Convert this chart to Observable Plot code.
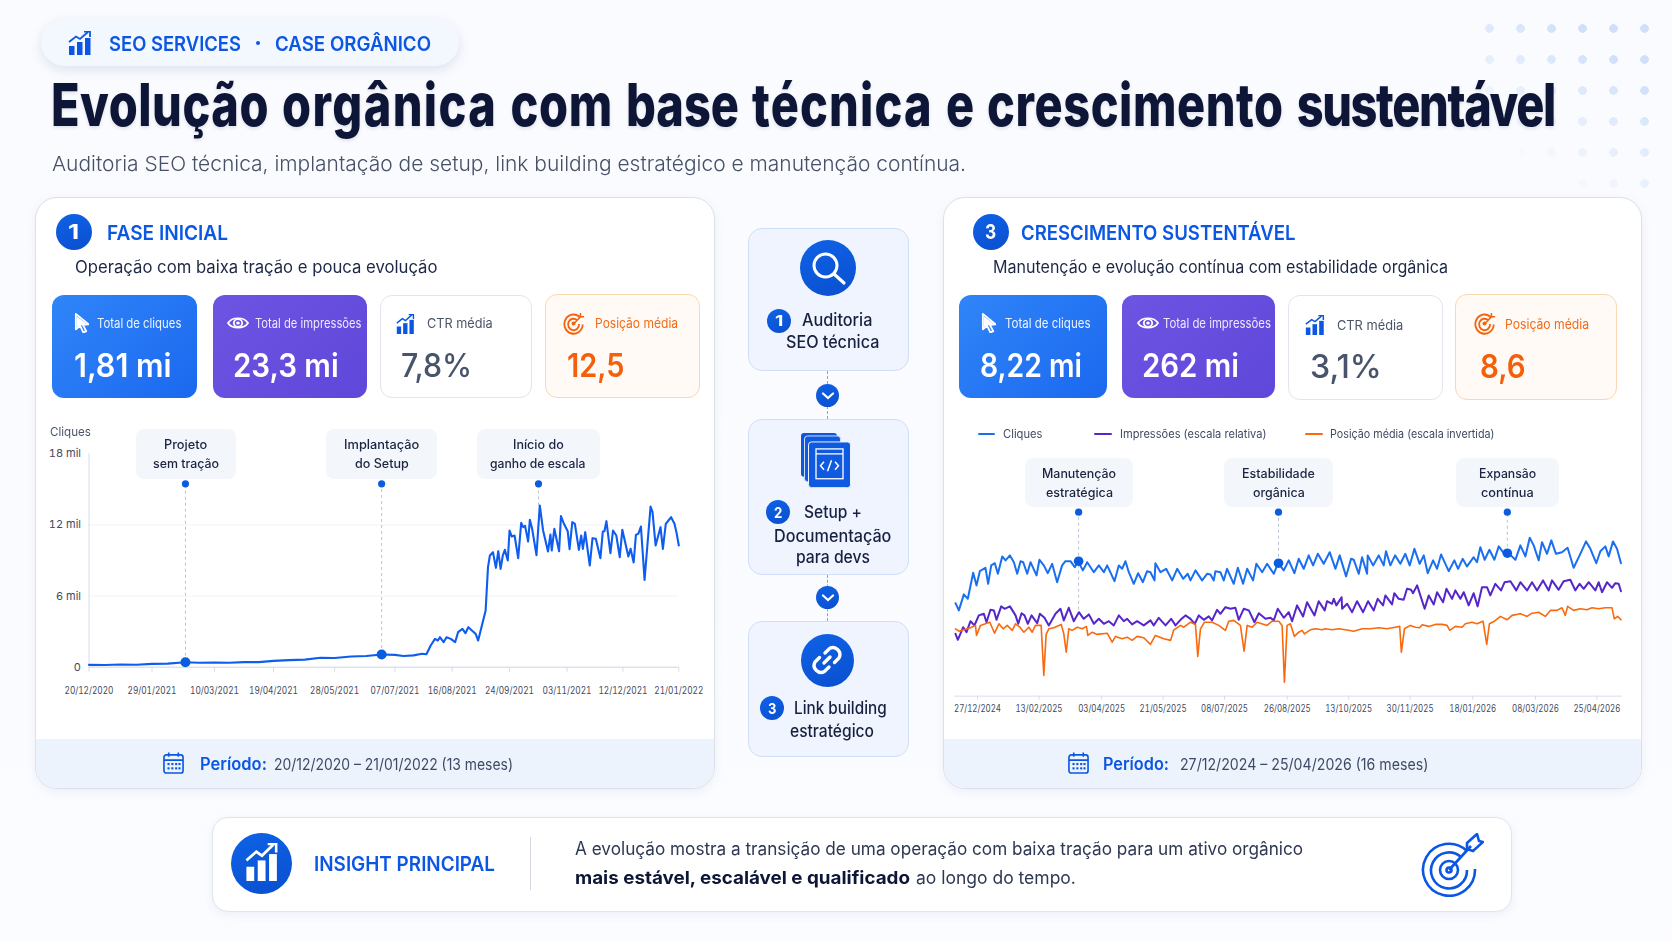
<!DOCTYPE html>
<html lang="pt-BR"><head><meta charset="utf-8">
<script src="https://cdn.jsdelivr.net/npm/d3@7"></script>
<script src="https://cdn.jsdelivr.net/npm/@observablehq/plot@0.6"></script>
<style>
html,body{margin:0;padding:0;background:#fafbfe}
#page{position:relative;width:1672px;height:941px;overflow:hidden;font-family:Inter,sans-serif;background:linear-gradient(180deg,#fafbfe,#fbfcff)}
.a{position:absolute;box-sizing:border-box}
</style></head><body><div id="page"></div>
<script>
// ---------- DATA ----------
// Fase inicial: [dia desde 20/12/2020, cliques]
const cliques1 = [[0,200],[10,190],[20,230],[30,210],[40,280],[50,300],[61.4,420],[70,380],[80,400],[90,370],[100,430],[110,430],[120,530],[130,600],[140,640],[150,800],[159,770],[170,900],[180,950],[190.2,1070],[199,1040],[205,950],[212,1000],[218,1130],[221,1090],[224,1828],[227,2390],[229,2250],[230.4,2530],[233,2110],[235,2530],[238,2390],[241,2110],[243,2953],[246,3235],[248,2870],[250,3375],[253,3037],[255,2813],[256.7,2250],[261.8,4781],[263.4,8437],[264.7,9421],[266.8,9702],[268.8,8381],[270.4,9786],[272,8296],[273.5,9421],[274.9,9899],[276.9,9000],[278.1,11530],[279.7,11024],[281.6,11108],[284.1,9196],[286.2,12177],[287.6,11811],[288.9,11924],[291,10602],[292.2,12430],[293.8,11671],[296.8,9449],[299.1,13639],[301.4,11530],[304.8,9758],[306.5,11192],[307.4,9843],[309.2,11671],[312.5,9786],[313.8,12739],[315.7,12149],[318.5,11474],[319.8,9955],[321.7,12233],[323.5,12092],[326.3,9899],[327.9,11108],[329.1,9983],[330.7,11389],[333.9,8577],[335.8,10883],[338.1,10827],[341.3,9196],[343,11446],[344.1,11474],[345.5,12317],[348.3,9618],[350.1,11530],[352.4,11108],[354.8,9280],[356.6,11586],[360.9,9336],[362.5,9983],[364.7,8830],[366.3,11164],[368,11249],[369.9,11867],[372.5,7368],[376.8,13555],[378.2,13076],[380.4,10265],[383.9,11811],[385.6,9983],[387.7,12092],[389.6,12373],[391.5,12655],[393.9,12092],[395.3,11389],[397,10265]];
const ticks1 = ["2020-12-20","2021-01-29","2021-03-10","2021-04-19","2021-05-28","2021-07-07","2021-08-16","2021-09-24","2021-11-03","2021-12-12","2022-01-21"];
const yTicks1 = [0,6000,12000,18000];
// anotações: dia, valor na linha, topo do marcador
const notas1Dias = [61.4,190.2,298.2];
const notas1Linha = [420,1070,13600];
const notas1Topo = 15470;
const notas1Textos = [["Projeto","sem tração"],["Implantação","do Setup"],["Início do","ganho de escala"]];

// Crescimento sustentável: [dia desde 27/12/2024, índice relativo]
const cliques3 = [[-17.2,46.5],[-14.6,42.9],[-10.7,50.9],[-7.6,48.7],[-3.4,61.7],[-0.8,55.4],[1.8,62.5],[6.2,64.2],[8.3,56.2],[10.7,65.4],[13.5,66.5],[15.9,61.2],[19.3,69.9],[21.9,67.9],[25.3,70.4],[28.4,67],[31,61.2],[33.6,67.5],[35.7,67],[38.8,61.2],[41.4,67],[46.1,60.4],[48.4,68.2],[51.8,65.4],[54.9,61.5],[58.3,66.2],[62.2,57],[66.1,65.4],[68.7,67.5],[72.6,67.5],[76,64.5],[78.6,67.5],[82.3,62.9],[85.7,67],[90.9,62],[94.8,65.4],[98.7,62],[101.3,65.4],[107,57.5],[110.4,65.4],[113,63.7],[115.6,67.5],[118.2,62],[122.1,56.2],[125.5,61.5],[129.2,57],[132.5,62.5],[135.1,62],[138.3,57.9],[139,66.5],[143,62],[147.4,63.7],[152.1,57.9],[156,63.7],[160.7,58.7],[164.3,61.2],[166.4,57.9],[170.3,62.9],[175.5,57.9],[179.4,61.2],[182,60.9],[184.6,57.9],[185.9,62.5],[189.8,62],[192.4,57.9],[195,63.7],[200.2,56.2],[203.4,64.2],[207.5,56.2],[210.7,63.7],[215.3,57.9],[217.9,66.2],[222.4,62],[226.3,66.2],[231.5,61.2],[234.9,66.7],[239.3,62.9],[243.2,67.9],[247.6,61.5],[251,68.7],[254.9,63.7],[258.8,70.4],[262.2,65.4],[265.9,71.2],[270.5,66.2],[275.2,72],[279.7,63.7],[283,70.4],[288,59.9],[291.9,68.7],[294,68.2],[297.9,61.2],[300.5,69.5],[304.4,61.2],[304.9,70.4],[309.1,65.4],[313.5,70.4],[317.4,65.4],[319.2,72.5],[322.6,65.4],[326.3,70.4],[330.4,66.2],[334.3,71.2],[337.7,65.4],[341.4,73.7],[345.5,66.2],[348.7,70.4],[351.8,61.5],[356,67.9],[359.1,63.7],[362.2,70.9],[368.2,62.5],[372.6,67.9],[375.5,63.7],[379.1,68.7],[382.5,64.9],[387.7,69.5],[390.3,67],[392.9,74.5],[396.3,68.2],[400,73.2],[403.9,68.2],[407.3,74.9],[411.2,71.5],[414.3,71.9],[420.3,68.2],[424.2,75.4],[428.1,69.9],[431.5,79.2],[434.6,75.4],[438.5,67.9],[441.1,77],[445,71.2],[448.4,77.9],[452,71.2],[456.7,72],[461.1,74.2],[465.8,64.2],[470.5,70.4],[475.5,77.4],[478.9,73.7],[483.5,66.5],[486.7,72.5],[490.6,74.9],[493.2,69.9],[496.6,77.4],[499.7,73.7],[502.8,66.5]];
const impressoes3 = [[-17.2,31.2],[-15.4,28.2],[-11.2,34.5],[-8.6,32],[-5.5,37.5],[-2.4,35.4],[1,40.4],[4.9,41.2],[7,37],[10.1,43.2],[12.8,42.9],[14.8,38.2],[18.5,44.9],[21.1,43.7],[25.3,44.9],[29.7,40.4],[31.8,36.2],[34.4,41.5],[36.7,40.4],[39.3,36.2],[42.2,40.4],[46.6,36.5],[48.7,41.2],[52.3,39.2],[55.7,35.4],[60.9,41.2],[64.8,43.7],[67.4,37.9],[71.3,44.2],[75.2,37.5],[79.2,42],[83,38.7],[87,40.9],[90.9,36.2],[94.8,38.7],[98.7,36.2],[102.6,37.5],[106.5,35.4],[110.4,40.4],[114.3,37.5],[116.9,38.7],[120.8,35.9],[124.7,37.5],[129.9,35.4],[135.1,37.9],[137.7,35.4],[141.6,39.2],[146.9,35.4],[151.3,38.7],[154.7,35.4],[158.6,38.2],[162.5,40.4],[166.4,38.7],[169.8,36.2],[172.9,40.4],[176.8,38.2],[180.7,39.9],[183.3,37.9],[187.2,43.2],[189.8,41.2],[193.7,44.5],[197.6,43.7],[201.5,44.2],[204.1,38.2],[208,43.7],[212,42.9],[216.4,37],[219.8,41.5],[225,38.7],[228.9,39.2],[231.5,37.9],[234.6,43.7],[239.3,39.2],[243.2,42],[245.8,37.5],[249.7,45.4],[254.4,39.9],[257.5,47],[263.3,40.4],[266.6,47.5],[271.3,42.9],[273.1,47.5],[277,46.2],[278.4,48.7],[280.4,45.4],[284.5,49.5],[284.9,43.7],[288.8,46.2],[292.7,42],[296.6,47.5],[301.3,42],[305.2,47.5],[309.6,42.9],[312.7,48.7],[316.9,45.4],[318.7,50.4],[323.9,45.9],[325.7,51.5],[329.1,48.7],[333,48.2],[335.6,53.7],[338.8,53.2],[340.3,51.5],[343.5,55.4],[349.4,43.7],[352.6,50.4],[356.5,45.9],[359.1,52],[363.8,47],[366.4,53.7],[370.8,48.7],[373.4,52.9],[377.3,48.7],[379.9,52],[383.8,45.4],[387.7,51.5],[390.8,44.9],[394.2,54.5],[398.1,54.5],[400.7,50.4],[404.6,56.2],[409.1,52.9],[411.9,57],[416.4,57.5],[421,52.9],[424.2,57],[429.4,52.9],[433.3,57],[437.2,52.9],[441.9,57.9],[446.3,52.9],[448.9,57.9],[454.1,53.2],[458,57.5],[463.2,58.2],[467.1,52.9],[470.5,56.2],[473.7,53.7],[477.6,57],[482.8,52.9],[485.4,57],[488,52],[491.9,57],[495.8,54.2],[498.4,56.5],[501,56.2],[502.8,52.5]];
const posicao3 = [[-17.2,33.7],[-14.6,32.5],[-10.7,33.2],[-5.5,34.2],[-1.6,35.4],[-0.8,30.4],[2.3,35.4],[6.2,36.2],[9.6,37],[13.3,31.5],[16.7,36.2],[20,33.7],[23.2,35.4],[27.1,32.9],[29.7,36.2],[33.1,34.5],[36.2,32],[40.1,34.5],[42.7,32],[45.3,35.4],[49.7,35.4],[51.8,10.4],[53.6,30.9],[55.7,33.7],[59.6,34.2],[65.4,35.9],[67.4,31.2],[69.3,22],[71.3,33.7],[73.9,32.9],[77.9,34.5],[81.8,33.7],[85.1,34.9],[86.2,30.4],[89.6,32],[93.5,30.9],[101.3,31.5],[105.2,27],[107.8,29.9],[113,28.7],[116.9,29.5],[120.8,27.9],[124.7,29.9],[129.9,29.2],[135.1,25.9],[139,30.4],[145.6,28.7],[150.8,27.9],[153.4,33.2],[158.6,35.4],[161.2,34.5],[166.4,37],[170.3,35.9],[172.1,19.9],[174.2,33.7],[177.3,37],[183.3,37],[188.5,35.4],[193.7,32.9],[196.3,37.5],[200.2,37.9],[205.4,35.4],[208.3,22.5],[210.7,35.4],[214.6,34.5],[218.5,37],[226.3,35.4],[230.2,37.5],[235.4,37.5],[238,35.4],[239.8,7],[241.9,35.4],[244.5,36.2],[247.6,29.9],[251,32],[253.6,32.9],[255.4,31.2],[260.1,33.2],[264,33.7],[269.2,33.2],[271.8,33.7],[277,33.2],[282.3,33.7],[287.5,33.2],[294,32.5],[300.5,33.7],[307,33.7],[313.5,34.2],[320,33.7],[326.5,34.5],[329.9,34.9],[331.2,22],[333.6,33.7],[338.2,35.4],[342.2,34.5],[345.5,34.2],[347.4,35.7],[352.6,34.9],[357.8,35.9],[363,35.9],[366.9,35.4],[369,32.9],[373.4,34.9],[378.6,34.5],[381.2,36.2],[386.4,37],[390.3,36.2],[395,37.5],[397.9,25.9],[400,36.2],[403.9,37.5],[408.6,39.9],[413.8,38.2],[417.7,40.4],[424.2,41.2],[429.4,39.9],[433.3,41.5],[438.5,42],[443.7,39.9],[447.6,42.9],[452.8,42.9],[456.7,44.2],[459.3,40.4],[461.1,44.9],[465.8,42.9],[471,43.7],[476.2,43.2],[480.2,44.2],[485.4,43.7],[490.6,44.2],[495.8,44.2],[497.6,38.7],[500.2,39.9],[502.8,38.2]];
const ticks3 = ["2024-12-27","2025-02-13","2025-04-03","2025-05-21","2025-07-08","2025-08-26","2025-10-13","2025-11-30","2026-01-18","2026-03-08","2026-04-25"];
const notas3Dias = [79,235.2,414];
const notas3Linha = [67.5,66.5,71.5];
const notas3Fim = [43,66.5,71.5];
const notas3Topo = 92;
const notas3Textos = [["Manutenção","estratégica"],["Estabilidade","orgânica"],["Expansão","contínua"]];
const legenda3 = ["Cliques","Impressões (escala relativa)","Posição média (escala invertida)"];

// ---------- HELPERS ----------
const page = document.getElementById("page");
const BLUE="#0b57e3", NAVY="#0d1636";
function box(x0,y0,x1,y1,css){const e=document.createElement("div");e.className="a";e.style.cssText+=`left:${x0}px;top:${y0}px;width:${x1-x0}px;height:${y1-y0}px;${css||""}`;page.appendChild(e);return e;}
function t(s,x0,x1,base,size,weight,color,extra,html){const e=document.createElement("div");e.className="a";if(html)e.innerHTML=html;else e.textContent=s;e.style.cssText+=`left:${x0}px;top:${base-0.8635*size+0.8}px;font:${weight} ${size}px/1 Inter,sans-serif;color:${color};white-space:nowrap;transform-origin:0 0;${extra||""}`;page.appendChild(e);const w=e.getBoundingClientRect().width;e.style.transform=`scaleX(${(x1-x0)/w})`;return e;}
function ic(x,y,w,h,vb,inner){const e=document.createElement("div");e.className="a";e.style.cssText+=`left:${x}px;top:${y}px;width:${w}px;height:${h}px;line-height:0`;e.innerHTML=`<svg xmlns="http://www.w3.org/2000/svg" width="${w}" height="${h}" viewBox="${vb}" preserveAspectRatio="none">${inner}</svg>`;page.appendChild(e);}
const icoBars=c=>`<rect x="1" y="15" width="5.5" height="9" fill="${c}"/><rect x="9" y="11" width="5.5" height="13" fill="${c}"/><rect x="17" y="7" width="5.5" height="17" fill="${c}"/><path d="M1 11 L8 5.5 L12 8 L20 1" fill="none" stroke="${c}" stroke-width="1.8"/><path d="M16 .5 H22 V6" fill="none" stroke="${c}" stroke-width="1.8"/>`;
const icoCursor=`<path d="M2 1 L2 18 L6.5 14 L10 21.5 L13 20 L9.5 13 L15.5 12.5 Z" fill="none" stroke="#fff" stroke-width="2" stroke-linejoin="round"/><path d="M3 3.5 L3 15.5 L13 11.5 Z" fill="#fff"/>`;
const icoEye=`<path d="M1 10 C5 3,17 3,21 10 C17 17,5 17,1 10 Z" fill="none" stroke="#fff" stroke-width="1.8"/><circle cx="11" cy="10" r="4.2" fill="none" stroke="#fff" stroke-width="1.8"/><circle cx="11" cy="10" r="1.8" fill="#fff"/>`;
const icoTarget=c=>`<path d="M19 6 A10 10 0 1 0 21.5 13" fill="none" stroke="${c}" stroke-width="2"/><path d="M15.5 8.5 A6 6 0 1 0 17.5 12.5" fill="none" stroke="${c}" stroke-width="2"/><circle cx="11.5" cy="12" r="2.2" fill="${c}"/><path d="M12 12 L20 4" stroke="${c}" stroke-width="1.6"/><path d="M19 1 L19 5 L23 5" fill="none" stroke="${c}" stroke-width="1.6"/>`;
const icoCal=`<rect x="1" y="3" width="20" height="19" rx="2.5" fill="none" stroke="${BLUE}" stroke-width="1.7"/><path d="M1 8.5 H21 M6 0.5 V5 M16 0.5 V5" stroke="${BLUE}" stroke-width="1.7"/>`+[5.5,9.5,13.5,17].map(x=>`<rect x="${x-.8}" y="11.5" width="2.2" height="2.2" fill="${BLUE}"/><rect x="${x-.8}" y="16" width="2.2" height="2.2" fill="${BLUE}"/>`).join("");
function circle(cx,cy,r,txt,fs){box(cx-r,cy-r,cx+r,cy+r,`border-radius:50%;background:linear-gradient(160deg,#0f62e6,#0a4fd0);`);if(txt){const w=fs*0.56;t(txt,cx-w/2,cx+w/2,cy+fs*0.37-0.8,fs,700,"#fff");}}

// ---------- FUNDO ----------
box(1474,13,1662,200,`background:radial-gradient(circle,#c9dcfa 4px,transparent 4.6px) 0 0/31px 31px;-webkit-mask-image:linear-gradient(215deg,#000 25%,transparent 78%);mask-image:linear-gradient(215deg,#000 25%,transparent 78%);opacity:.85`);

// ---------- CABEÇALHO ----------
box(41,19,459,66,`background:#f3f7fe;border-radius:24px;box-shadow:0 4px 12px rgba(70,100,170,.16)`);
ic(68,31,24,24,"0 0 24 24",icoBars(BLUE));
t("SEO SERVICES",109,241,50.5,20,600,BLUE);
box(256,41,260,45,`border-radius:50%;background:${BLUE}`);
t("CASE ORGÂNICO",275,431,50.5,20,600,BLUE);
const tituloPalavras=[["Evolução",.67],["orgânica",1.8],["com",.9],["base",0],["técnica",1.5],["e",0],["crescimento",.7],["sustentável",-1.7]];
t("",51,1555,125,59,800,NAVY,"word-spacing:3.5px;text-shadow:0 2px 4px rgba(30,50,110,.12)",tituloPalavras.map(([w,l])=>`<span style="letter-spacing:${l}px">${w}</span>`).join(" "));
t("Auditoria SEO técnica, implantação de setup, link building estratégico e manutenção contínua.",52,966,170.5,20.5,300,"#465066");

// ---------- CARTÕES ----------
function card(x0,x1){
  box(x0,197,x1,789,`background:#fff;border:1.3px solid #dbe0ea;border-radius:22px;box-shadow:0 3px 10px rgba(70,90,150,.08);overflow:hidden`);
  box(x0+1,739,x1-1,788,`background:#edf3fd;border-radius:0 0 21px 21px`);
}
card(34.5,714.5); card(943,1642);

function kpiBlue(x0,x1){box(x0,295,x1,398,`background:linear-gradient(135deg,#3085f8,#1b68ef);border-radius:12px`);}
function kpiPurple(x0,x1){box(x0,295,x1,398,`background:linear-gradient(135deg,#6e54e2,#5f47da);border-radius:12px`);}
function kpiWhite(x0,x1,y1){box(x0,295,x1,y1,`background:#fff;border:1.3px solid #e1e5ee;border-radius:12px`);}
function kpiOrange(x0,x1,y1){box(x0,294,x1,y1,`background:#fffaf5;border:1.3px solid #fbd7b2;border-radius:12px`);}

// Card 1 cabeçalho
circle(73.5,231.7,18,"1",20);
t("FASE INICIAL",107,228,240,20.5,600,BLUE);
t("Operação com baixa tração e pouca evolução",74.5,437,273,17,400,"#1c2746");
kpiBlue(52.3,197.4);kpiPurple(212.6,367.3);kpiWhite(380,531.7,398);kpiOrange(545,700,398);
ic(74,313,15,20,"0 0 16 22",icoCursor);
t("Total de cliques",97,181.4,327.5,13,400,"#eef4ff");
t("1,81 mi",74.4,172,377.3,32,600,"#fff");
ic(227,314,22,18,"0 0 22 20",icoEye);
t("Total de impressões",254.8,361.3,327.5,13,400,"#eee9ff");
t("23,3 mi",232.8,338.4,377.3,32,600,"#fff");
ic(396,314,19,20,"0 0 24 24",icoBars(BLUE));
t("CTR média",427,492.7,327.5,13,400,"#4a5568");
t("7,8%",400.8,472,377.3,32,500,"#47546b");
ic(563,312,22,23,"0 0 24 24",icoTarget("#f2640f"));
t("Posição média",594.6,677.7,327.5,13,400,"#f36a16");
t("12,5",567,624.4,377.3,32,600,"#f2600b");

// Card 3 cabeçalho
circle(990.6,231.5,18,"3",20);
t("CRESCIMENTO SUSTENTÁVEL",1020.5,1295,240,20.5,600,BLUE);
t("Manutenção e evolução contínua com estabilidade orgânica",992.7,1447.7,273,17,400,"#1c2746");
kpiBlue(958.6,1107);kpiPurple(1122,1275.3);kpiWhite(1288.3,1443,400);kpiOrange(1455,1616.7,400);
ic(981,313,15,20,"0 0 16 22",icoCursor);
t("Total de cliques",1004.5,1090,327.5,13,400,"#eef4ff");
t("8,22 mi",980,1082,377.3,32,600,"#fff");
ic(1137,314,22,18,"0 0 22 20",icoEye);
t("Total de impressões",1163,1271,327.5,13,400,"#eee9ff");
t("262 mi",1142,1239,377.3,32,600,"#fff");
ic(1305,315,20,20,"0 0 24 24",icoBars(BLUE));
t("CTR média",1336.7,1403,329.5,13,400,"#4a5568");
t("3,1%",1310,1381.7,377.7,32,500,"#47546b");
ic(1474,312,22,23,"0 0 24 24",icoTarget("#f2640f"));
t("Posição média",1505,1589,328.7,13,400,"#f36a16");
t("8,6",1480,1525.7,378.3,32,600,"#f2600b");

// Rodapés
ic(162.9,752,21,22,"0 0 22 23",icoCal);
t("Período:",199.5,266.4,770,17,600,BLUE);
t("20/12/2020 – 21/01/2022 (13 meses)",274.3,513.3,770,15.5,400,"#3d4a63");
ic(1068,752,21,22,"0 0 22 23",icoCal);
t("Período:",1103,1169,770,17,600,BLUE);
t("27/12/2024 – 25/04/2026 (16 meses)",1179.7,1428,770,15.5,400,"#3d4a63");

// ---------- COLUNA CENTRAL ----------
box(827.4,371,828.6,419,`border-left:1.6px dashed #7ea6ee`);
box(827.4,575,828.6,621,`border-left:1.6px dashed #7ea6ee`);
const panel=(y0,y1)=>box(748.3,y0,908.7,y1,`background:#eff4fe;border:1.3px solid #cfdffa;border-radius:14px`);
panel(228.4,371);panel(419,575);panel(620.7,757);
[395.6,597.5].forEach(cy=>{circle(827.7,cy,11.5);ic(821,cy-4,14,8,"0 0 14 8",`<path d="M2 1.5 L7 6 L12 1.5" fill="none" stroke="#fff" stroke-width="2.2" stroke-linecap="round"/>`);});
circle(828.3,268,28);
ic(808,248,40,40,"0 0 40 40",`<circle cx="17.5" cy="17.5" r="11.5" fill="none" stroke="#fff" stroke-width="3"/><path d="M26 26 L36 35" stroke="#fff" stroke-width="3.2" stroke-linecap="round"/>`);
circle(779.3,320.7,12,"1",15);
t("Auditoria",802.3,872.7,325.5,17,500,"#17213f");
t("SEO técnica",786,879.3,348,17,500,"#17213f");
ic(801,432.7,50,55.7,"0 0 50 56",`<rect x="0" y="0" width="36" height="44" rx="3" fill="#0f57d8"/><rect x="3.5" y="3" width="36" height="46" rx="3" fill="#0f5ae0" stroke="#cfe0fb" stroke-width="1"/><rect x="7.5" y="9" width="42" height="46" rx="3" fill="#0f5ae0" stroke="#eff4fe" stroke-width="1"/><rect x="15" y="16" width="27" height="30" fill="none" stroke="#fff" stroke-width="1.3"/><path d="M15 21 H42" stroke="#fff" stroke-width="1.3"/><path d="M23 29 L19.5 33 L23 37 M34 29 L37.5 33 L34 37 M30.5 27.5 L26.5 38.5" fill="none" stroke="#fff" stroke-width="1.5"/>`);
circle(777.7,512,12,"2",15);
t("Setup +",804.3,862.3,518,17,500,"#17213f");
t("Documentação",774.3,891.7,541.5,17,500,"#17213f");
t("para devs",796,870,563,17,500,"#17213f");
circle(827.3,660,26.5);
ic(807,640,40,40,"0 0 40 40",`<g fill="none" stroke="#fff" stroke-width="3.4" stroke-linecap="round"><path d="M17 23 L23 17"/><path d="M18 13 L22.5 8.5 A7 7 0 0 1 32 18 L27.5 22.5"/><path d="M22 27 L17.5 31.5 A7 7 0 0 1 8 22 L12.5 17.5"/></g>`);
circle(772.3,708,12,"3",15);
t("Link building",794,886.7,713.5,17,500,"#17213f");
t("estratégico",790,874,736.5,17,500,"#17213f");

// ---------- INSIGHT ----------
box(212,816.7,1512,911.7,`background:#fff;border:1.3px solid #dfe4ee;border-radius:16px;box-shadow:0 3px 9px rgba(70,90,150,.08)`);
circle(261.4,863.3,30.5);
ic(245,843,34,38,"0 0 24 24",icoBars("#fff"));
t("INSIGHT PRINCIPAL",313.6,494.6,870,20,600,BLUE);
box(530.2,837,531.4,890,`background:#d3d8e3`);
t("A evolução mostra a transição de uma operação com baixa tração para um ativo orgânico",574.6,1302.7,855,18,400,"#2d3852");
t("mais estável, escalável e qualificado",574.6,909.6,884,18,700,NAVY);
t("ao longo do tempo.",915.5,1075.4,884,18,400,"#2d3852");
ic(1421,833,63,64,"0 0 63 64",`<g fill="none" stroke="${BLUE}" stroke-width="2.6"><path d="M46 18 A26 26 0 1 0 54 36"/><path d="M40 24 A18 18 0 1 0 46 37"/><circle cx="28" cy="37" r="9"/><circle cx="28" cy="37" r="2.5"/><path d="M28 37 L50 13"/><path d="M46 10 L56 1 L58 8 L62 9 L52 18 L46 16 Z" /></g>`);

// ---------- CHART 1 ----------
const place=(svg,x,y)=>{svg.style.position="absolute";svg.style.left=x+"px";svg.style.top=y+"px";svg.style.overflow="visible";svg.style.maxWidth="none";page.appendChild(svg);};
const dia1 = d => new Date(Date.UTC(2020,11,20)+d*864e5);
const fmt = d3.utcFormat("%d/%m/%Y");
const dTicks1 = ticks1.map(s=>new Date(s+"T00:00Z"));
const serie1 = cliques1.map(([d,v])=>({x:dia1(d),v}));
const notas1 = notas1Dias.map((d,i)=>({x:dia1(d),linha:notas1Linha[i],topo:notas1Topo}));
const axisColor="#d7dce8";
const chart1 = Plot.plot({
  width:670,height:270,marginLeft:48.5,marginRight:31.7,marginTop:13.3,marginBottom:43.3,
  style:{fontFamily:"Inter,sans-serif",fontSize:"10px",color:"#3f4a60",background:"none"},
  x:{type:"utc",domain:dTicks1,range:[48.5,111.5,174,233,294.1,354.4,411.7,468.9,526.5,582.4,638.3]},
  y:{domain:[0,18000]},
  marks:[
    Plot.ruleY([6000,12000],{stroke:"#f1f3f8"}),
    Plot.ruleX([dTicks1[0]],{y1:0,y2:18000,stroke:axisColor}),
    Plot.ruleY([0],{stroke:"#dde2ec",strokeWidth:1.6}),
    Plot.axisY({ticks:yTicks1,tickFormat:v=>v?`${v/1000} mil`:"0",tickSize:0,tickPadding:8,label:null,fontSize:11,stroke:axisColor}),
    Plot.axisX({ticks:dTicks1,tickFormat:fmt,tickSize:5,tickPadding:15,label:null,stroke:axisColor,color:"#3f4a60"}),
    Plot.ruleX(notas1,{x:"x",y1:"linha",y2:"topo",stroke:"#b9c2d6",strokeDasharray:"3,3"}),
    Plot.line(serie1,{x:"x",y:"v",stroke:"#0e5df0",strokeWidth:2.1}),
    Plot.dot(notas1,{x:"x",y:"topo",r:3.6,fill:"#0a5ce0"}),
    Plot.dot(notas1.slice(0,2),{x:"x",y:"linha",r:5,fill:"#0a5ce0"})
  ]
});
place(chart1,40,440);
chart1.querySelectorAll('[aria-label="x-axis tick label"] text').forEach(e=>{e.setAttribute("textLength",49);e.setAttribute("lengthAdjust","spacingAndGlyphs");});
t("Cliques",49.8,90.7,436,12,400,"#4a5568");

// callouts 1
[[135.6,236],[326.2,437.1],[476.7,600]].forEach(([a,b])=>box(a,429,b,479,`background:#f3f6fb;border-radius:8px`));
const cw1=[[[164.2,207.4],[153.2,219.3]],[[343.8,419.1],[354.8,408.5]],[[512.8,563.5],[490.4,585.9]]];
notas1Textos.forEach((ls,i)=>{t(ls[0],cw1[i][0][0],cw1[i][0][1],449.3,12.5,500,"#1b2542");t(ls[1],cw1[i][1][0],cw1[i][1][1],468,12.5,500,"#1b2542");});

// ---------- CHART 3 ----------
const dia3 = d => new Date(Date.UTC(2024,11,27)+d*864e5);
const dTicks3 = ticks3.map(s=>new Date(s+"T00:00Z"));
const fam=(arr)=>arr.map(([d,v])=>({x:dia3(d),v}));
const notas3 = notas3Dias.map((d,i)=>({x:dia3(d),linha:notas3Linha[i],fim:notas3Fim[i],topo:notas3Topo}));
const chart3 = Plot.plot({
  width:696,height:225,marginLeft:10,marginRight:18,marginTop:5.7,marginBottom:29.3,
  style:{fontFamily:"Inter,sans-serif",fontSize:"10px",color:"#3f4a60",background:"none"},
  x:{type:"utc",domain:[dia3(-18),dia3(504)],range:[10,678]},
  y:{domain:[0,95],axis:null},
  marks:[
    Plot.ruleY([0],{stroke:"#e6eaf2",strokeWidth:1.5}),
    Plot.axisX({ticks:dTicks3,tickFormat:fmt,tickSize:4,tickPadding:5,label:null,stroke:axisColor,color:"#3f4a60"}),
    Plot.ruleX(notas3,{x:"x",y1:"fim",y2:"topo",stroke:"#b9c2d6",strokeDasharray:"3,3"}),
    Plot.line(fam(impressoes3),{x:"x",y:"v",stroke:"#5526c9",strokeWidth:2}),
    Plot.line(fam(posicao3),{x:"x",y:"v",stroke:"#f9690e",strokeWidth:1.6}),
    Plot.line(fam(cliques3),{x:"x",y:"v",stroke:"#1a6ff0",strokeWidth:2}),
    Plot.dot(notas3,{x:"x",y:"topo",r:3.6,fill:"#0a5ce0"}),
    Plot.dot(notas3,{x:"x",y:"linha",r:4.8,fill:"#0a5ce0"})
  ]
});
place(chart3,944,500);
chart3.querySelectorAll('[aria-label="x-axis tick label"] text').forEach(e=>{e.setAttribute("textLength",47);e.setAttribute("lengthAdjust","spacingAndGlyphs");});

// legenda 3
[[978,995,"#1a6ff0",1002.5,1042],[1094,1112,"#5526c9",1119.5,1266],[1305,1323,"#f9690e",1330,1494.5]].forEach(([a,b,c,x0,x1],i)=>{
  box(a,432.5,b,434.5,`background:${c};border-radius:1px`);
  t(legenda3[i],x0,x1,438,11.5,400,"#3f4a60");
});
// callouts 3
[[1024.8,1132.9],[1224.4,1332.9],[1455.6,1558.8]].forEach(([a,b])=>box(a,457.7,b,507.3,`background:#f3f6fb;border-radius:8px`));
const cw3=[[[1042.2,1116.3],[1045.8,1112.8]],[[1242.2,1315],[1252.5,1304.3]],[[1478.8,1536],[1481,1533.7]]];
notas3Textos.forEach((ls,i)=>{t(ls[0],cw3[i][0][0],cw3[i][0][1],478,12.5,500,"#1b2542");t(ls[1],cw3[i][1][0],cw3[i][1][1],496.7,12.5,500,"#1b2542");});
</script></body></html>
